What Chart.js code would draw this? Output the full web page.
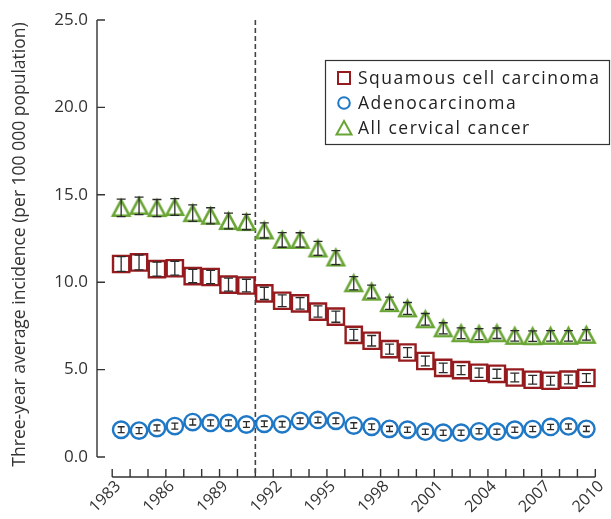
<!DOCTYPE html>
<html>
<head>
<meta charset="utf-8">
<script src="https://cdn.jsdelivr.net/npm/chart.js@4.4.0/dist/chart.umd.min.js"></script>
<style>
  html, body { margin: 0; padding: 0; background: #fff; }
  #wrap { width: 611px; height: 519px; }
</style>
</head>
<body>
<div id="wrap"><canvas id="chart"></canvas></div>
<script>
// Three-year average incidence of cervical cancer, by histological type
const years = [1983, 1984, 1985, 1986, 1987, 1988, 1989, 1990, 1991, 1992, 1993, 1994, 1995, 1996,
               1997, 1998, 1999, 2000, 2001, 2002, 2003, 2004, 2005, 2006, 2007, 2008, 2009];

const squamous = [11.04, 11.13, 10.75, 10.80, 10.35, 10.30, 9.86, 9.81, 9.36, 8.94, 8.79, 8.32, 8.03, 6.99,
                  6.65, 6.17, 5.98, 5.49, 5.10, 4.97, 4.82, 4.76, 4.55, 4.42, 4.36, 4.43, 4.52];
const squamousErr = [0.42, 0.42, 0.40, 0.40, 0.38, 0.38, 0.37, 0.36, 0.35, 0.34, 0.33, 0.32, 0.32, 0.31,
                     0.30, 0.29, 0.28, 0.28, 0.27, 0.26, 0.26, 0.26, 0.25, 0.25, 0.25, 0.25, 0.25];

const adeno = [1.56, 1.51, 1.66, 1.77, 2.00, 1.95, 1.95, 1.86, 1.90, 1.87, 2.07, 2.12, 2.07, 1.80,
               1.73, 1.61, 1.56, 1.45, 1.39, 1.39, 1.47, 1.45, 1.56, 1.60, 1.72, 1.75, 1.61];
const adenoErr = [0.17, 0.17, 0.17, 0.17, 0.17, 0.17, 0.17, 0.16, 0.16, 0.16, 0.16, 0.16, 0.16, 0.16,
                  0.16, 0.15, 0.15, 0.15, 0.15, 0.15, 0.15, 0.15, 0.15, 0.15, 0.15, 0.15, 0.15];

const allCervical = [14.25, 14.37, 14.24, 14.30, 13.95, 13.80, 13.50, 13.44, 12.96, 12.42, 12.42, 11.93, 11.41, 9.94,
                     9.46, 8.80, 8.50, 7.88, 7.36, 7.08, 7.03, 7.08, 6.93, 6.91, 6.93, 6.93, 6.99];
const allCervicalErr = [0.50, 0.50, 0.49, 0.48, 0.47, 0.46, 0.45, 0.44, 0.43, 0.42, 0.41, 0.40, 0.40, 0.38,
                        0.37, 0.35, 0.34, 0.33, 0.32, 0.31, 0.31, 0.30, 0.30, 0.30, 0.30, 0.30, 0.30];

const xTickYears = [1983, 1984, 1985, 1986, 1987, 1988, 1989, 1990, 1991, 1992, 1993, 1994, 1995, 1996,
                    1997, 1998, 1999, 2000, 2001, 2002, 2003, 2004, 2005, 2006, 2007, 2008, 2009, 2010];
const xLabelYears = [1983, 1986, 1989, 1992, 1995, 1998, 2001, 2004, 2007, 2010];
const yTicks = [0, 5, 10, 15, 20, 25];
const screeningYear = 1991;
const yTitle = 'Three-year average incidence (per 100 000 population)';

const RED = '#951b1e';
const BLUE = '#1f78c6';
const GREEN = '#69a534';
const INK = '#333333';
const FONT = '"Open Sans", "DejaVu Sans", sans-serif';

// triangle marker as a small canvas so the box is centred on the value
function triangleMarker(w, h, color, lw) {
    const c = document.createElement('canvas');
    c.width = w + 4;
    c.height = h + 4;
    const g = c.getContext('2d');
    g.beginPath();
    g.moveTo(2 + w / 2, 2 + lw / 2);
    g.lineTo(2 + w - lw / 2, 2 + h - lw / 2);
    g.lineTo(2 + lw / 2, 2 + h - lw / 2);
    g.closePath();
    g.fillStyle = '#fff';
    g.fill();
    g.lineWidth = lw;
    g.lineJoin = 'miter';
    g.strokeStyle = color;
    g.stroke();
    return c;
}

function toPoints(vals) {
    // plotted at the middle of each year
    return vals.map((v, i) => ({ x: years[i] + 0.5, y: v }));
}

const datasets = [
    {
        label: 'Squamous cell carcinoma',
        data: toPoints(squamous),
        err: squamousErr,
        capW: 9,
        pointStyle: 'rect',
        pointRadius: 11.5,
        borderColor: RED,
        backgroundColor: '#fff',
        borderWidth: 2.4
    },
    {
        label: 'Adenocarcinoma',
        data: toPoints(adeno),
        err: adenoErr,
        capW: 7,
        pointStyle: 'circle',
        pointRadius: 8.2,
        borderColor: BLUE,
        backgroundColor: '#fff',
        borderWidth: 2.4
    },
    {
        label: 'All cervical cancer',
        data: toPoints(allCervical),
        err: allCervicalErr,
        capW: 9,
        pointStyle: triangleMarker(19, 18, GREEN, 2.6),
        pointRadius: 10,
        borderColor: GREEN,
        backgroundColor: '#fff',
        borderWidth: 2.4
    }
];

// axis lines, inward ticks, y title and the screening start marker
const axesPlugin = {
    id: 'axes',
    beforeDatasetsDraw(chart) {
        const { ctx, chartArea, scales } = chart;
        const x = scales.x, y = scales.y;
        ctx.save();
        ctx.strokeStyle = INK;
        ctx.lineWidth = 1.4;

        // y axis
        const yl = chartArea.left;
        const yTop = y.getPixelForValue(yTicks[yTicks.length - 1]);
        ctx.beginPath();
        ctx.moveTo(yl, yTop);
        ctx.lineTo(yl, y.getPixelForValue(0));
        yTicks.forEach(v => {
            const py = y.getPixelForValue(v);
            ctx.moveTo(yl, py);
            ctx.lineTo(yl + 8, py);
        });
        ctx.stroke();

        // x axis
        const xb = chartArea.bottom;
        ctx.beginPath();
        ctx.moveTo(x.getPixelForValue(xTickYears[0]), xb);
        ctx.lineTo(x.getPixelForValue(xTickYears[xTickYears.length - 1]), xb);
        xTickYears.forEach(v => {
            const px = x.getPixelForValue(v);
            ctx.moveTo(px, xb);
            ctx.lineTo(px, xb - 8);
        });
        ctx.stroke();

        // y axis title, centred between the top tick and the x axis
        ctx.save();
        ctx.translate(20, (yTop + xb) / 2 - 4);
        ctx.rotate(-Math.PI / 2);
        ctx.font = '17.5px ' + FONT;
        ctx.fillStyle = INK;
        ctx.textAlign = 'center';
        ctx.textBaseline = 'middle';
        ctx.fillText(yTitle, 0, 0);
        ctx.restore();

        // dashed line at screening start
        const sx = x.getPixelForValue(screeningYear);
        ctx.strokeStyle = '#444';
        ctx.lineWidth = 1.6;
        ctx.setLineDash([5, 3]);
        ctx.beginPath();
        ctx.moveTo(sx, yTop);
        ctx.lineTo(sx, xb);
        ctx.stroke();
        ctx.restore();
    }
};

// confidence interval bars drawn on top of the markers
const errorBarPlugin = {
    id: 'errorBars',
    afterDatasetsDraw(chart) {
        const { ctx } = chart;
        const y = chart.scales.y;
        ctx.save();
        ctx.strokeStyle = '#2a2a2a';
        ctx.lineWidth = 1.3;
        chart.data.datasets.forEach((ds, di) => {
            const meta = chart.getDatasetMeta(di);
            meta.data.forEach((pt, i) => {
                const v = ds.data[i].y;
                const top = y.getPixelForValue(v + ds.err[i]);
                const bot = y.getPixelForValue(v - ds.err[i]);
                const h = ds.capW / 2;
                ctx.beginPath();
                ctx.moveTo(pt.x, top);
                ctx.lineTo(pt.x, bot);
                ctx.moveTo(pt.x - h, top);
                ctx.lineTo(pt.x + h, top);
                ctx.moveTo(pt.x - h, bot);
                ctx.lineTo(pt.x + h, bot);
                ctx.stroke();
            });
        });
        ctx.restore();
    }
};

// boxed legend inside the plot area
const legendPlugin = {
    id: 'boxLegend',
    afterDraw(chart) {
        const { ctx } = chart;
        const bx = 325, by = 60, bw = 284, bh = 84;
        ctx.save();
        ctx.fillStyle = '#fff';
        ctx.fillRect(bx, by, bw, bh);
        ctx.strokeStyle = INK;
        ctx.lineWidth = 1.2;
        ctx.strokeRect(bx + 0.5, by + 0.5, bw, bh);

        ctx.font = '17.5px ' + FONT;
        ctx.letterSpacing = '1.5px';
        ctx.textBaseline = 'middle';
        chart.data.datasets.forEach((ds, i) => {
            const cy = by + 18 + i * 25;
            const cx = 344;
            ctx.lineWidth = 2;
            ctx.strokeStyle = ds.borderColor;
            ctx.fillStyle = '#fff';
            ctx.beginPath();
            if (ds.pointStyle === 'rect') {
                ctx.rect(cx - 6, cy - 6, 12, 12);
            } else if (ds.pointStyle === 'circle') {
                ctx.arc(cx, cy, 5.8, 0, Math.PI * 2);
            } else {
                ctx.moveTo(cx, cy - 7);
                ctx.lineTo(cx + 7.5, cy + 6.5);
                ctx.lineTo(cx - 7.5, cy + 6.5);
                ctx.closePath();
            }
            ctx.fill();
            ctx.stroke();
            ctx.fillStyle = '#222';
            ctx.fillText(ds.label, 358, cy + 1);
        });
        ctx.restore();
    }
};

new Chart(document.getElementById('chart'), {
    type: 'scatter',
    data: { datasets: datasets },
    options: {
        responsive: true,
        maintainAspectRatio: false,
        animation: false,
        events: [],
        layout: { padding: { top: 20, right: 3, left: 0, bottom: 0 } },
        plugins: {
            legend: { display: false },
            tooltip: { enabled: false }
        },
        scales: {
            x: {
                type: 'linear',
                min: 1982.15,
                max: 2010.1,
                afterBuildTicks: s => { s.ticks = xTickYears.map(v => ({ value: v })); },
                afterFit: s => { s.height = 42; },
                ticks: {
                    autoSkip: false,
                    minRotation: 45,
                    maxRotation: 45,
                    padding: -8,
                    labelOffset: 6,
                    color: INK,
                    font: { family: FONT, size: 16 },
                    callback: v => xLabelYears.includes(v) ? String(v) : ''
                },
                grid: { display: false },
                border: { display: false }
            },
            y: {
                min: -1.144,
                max: 25,
                afterBuildTicks: s => { s.ticks = yTicks.map(v => ({ value: v })); },
                afterFit: s => { s.width = 97; },
                ticks: {
                    padding: 1,
                    color: INK,
                    font: { family: FONT, size: 17 },
                    callback: v => v.toFixed(1)
                },
                grid: { display: false },
                border: { display: false }
            }
        }
    },
    plugins: [axesPlugin, errorBarPlugin, legendPlugin]
});
</script>
</body>
</html>
